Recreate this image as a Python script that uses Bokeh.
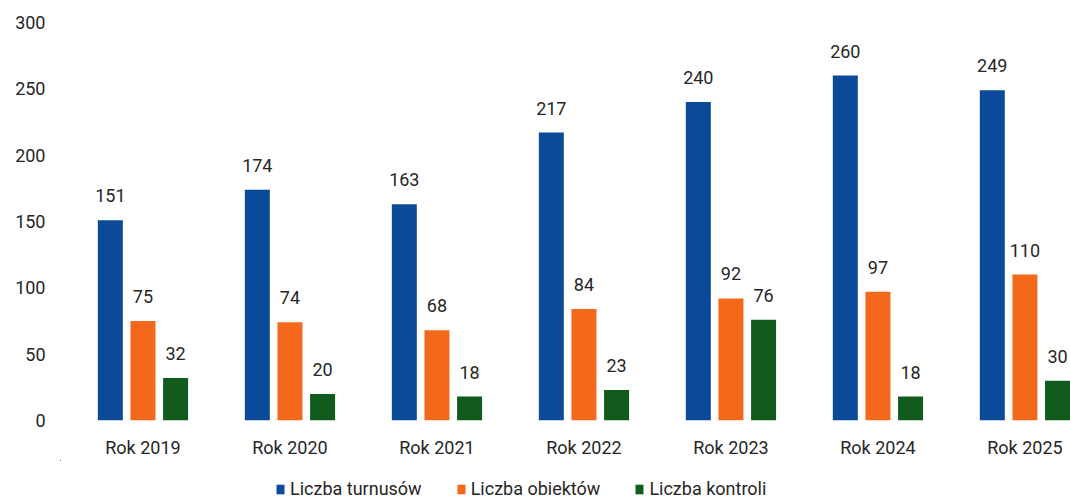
from bokeh.plotting import figure
from bokeh.models import ColumnDataSource, FixedTicker, Range1d, Legend, LegendItem, LabelSet
from bokeh.layouts import column
from bokeh.core.properties import value
from bokeh.transform import dodge
from bokeh.embed import file_html
from bokeh.resources import INLINE

years = ["Rok 2019", "Rok 2020", "Rok 2021", "Rok 2022", "Rok 2023", "Rok 2024", "Rok 2025"]
turnusy = [151, 174, 163, 217, 240, 260, 249]
obiekty = [75, 74, 68, 84, 92, 97, 110]
kontrole = [32, 20, 18, 23, 76, 18, 30]
series_names = ["Liczba turnusów", "Liczba obiektów", "Liczba kontroli"]
colors = ["#0b4a98", "#f4681c", "#115b1d"]

idx = list(range(len(years)))
src = ColumnDataSource(dict(x=idx, t=turnusy, o=obiekty, k=kontrole,
                            tl=[str(v) for v in turnusy],
                            ol=[str(v) for v in obiekty],
                            kl=[str(v) for v in kontrole]))

FONT = "Roboto"
TXT = "#262626"

p = figure(width=1070, height=460, output_backend="svg", toolbar_location=None,
           x_range=Range1d(-0.561, 6.31), y_range=Range1d(0, 300),
           min_border_left=60, min_border_right=0, min_border_top=22, min_border_bottom=39)
p.outline_line_color = None
p.grid.visible = False
p.background_fill_color = "white"

bw = 0.17
off = 0.222
cols = ["t", "o", "k"]
labs = ["tl", "ol", "kl"]
offsets = [-off, 0, off]
for c, l, o, col in zip(cols, labs, offsets, colors):
    p.vbar(x=dodge("x", o), top=c, width=bw, source=src, fill_color=col, line_color=None)
    ls = LabelSet(x=dodge("x", o), y=c, text=l, source=src, text_align="center",
                  text_baseline="bottom", y_offset=18, text_font=value(FONT),
                  text_font_size="18px", text_color=TXT)
    p.add_layout(ls)

p.xaxis.ticker = FixedTicker(ticks=idx)
p.xaxis.major_label_overrides = {i: y for i, y in enumerate(years)}
p.yaxis.ticker = FixedTicker(ticks=[0, 50, 100, 150, 200, 250, 300])
for ax in (p.xaxis, p.yaxis):
    ax.axis_line_color = None
    ax.major_tick_line_color = None
    ax.minor_tick_line_color = None
    ax.major_tick_out = 0
    ax.major_tick_in = 0
    ax.major_label_text_font = FONT
    ax.major_label_text_font_size = "18px"
    ax.major_label_text_color = TXT
p.xaxis.major_label_standoff = 16
p.yaxis.major_label_standoff = 15

# legend strip below the chart (its own figure; the series lie out of view,
# only their legend swatches show)
lg = figure(width=1070, height=39, output_backend="svg", toolbar_location=None,
            x_range=Range1d(1000, 1001), y_range=Range1d(-2, -1), x_axis_type=None, y_axis_type=None,
            min_border_left=0, min_border_right=0, min_border_top=0, min_border_bottom=0)
lg.outline_line_color = None
lg.grid.visible = False
leg_r = [lg.vbar(x="x", top=c, width=bw, source=src, fill_color=col, line_color=None)
         for c, col in zip(cols, colors)]
legend = Legend(items=[LegendItem(label=n, renderers=[r]) for n, r in zip(series_names, leg_r)],
                orientation="horizontal", location=(215, 0),
                label_text_font=FONT, label_text_font_size="18px", label_text_color=TXT,
                glyph_width=10, glyph_height=12, spacing=34, label_standoff=5,
                padding=0, margin=0, border_line_color=None, background_fill_alpha=0)
lg.add_layout(legend)

layout = column(p, lg, spacing=0)
open("out.html", "w").write(file_html(layout, INLINE))
